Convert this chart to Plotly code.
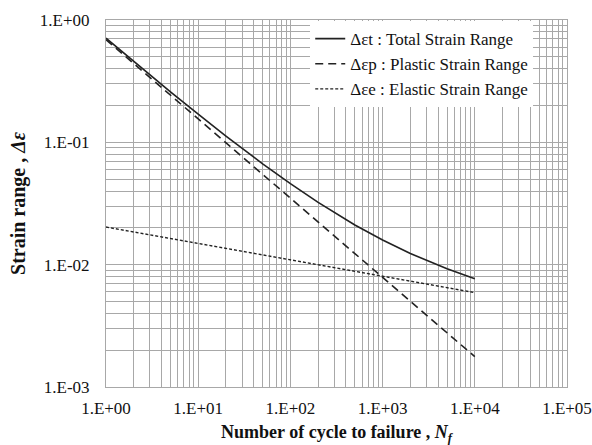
import plotly.graph_objects as go

# Number of cycles to failure
cycles = [1, 2, 5, 10, 20, 50, 100, 200, 500, 1000, 2000, 5000, 10000]
# Strain ranges
total_strain = [0.710, 0.459, 0.259, 0.170, 0.1126, 0.0667, 0.0459, 0.0323, 0.0211, 0.0159, 0.01234, 0.00925, 0.00768]
plastic_strain = [0.690, 0.440, 0.243, 0.1552, 0.0990, 0.0547, 0.0349, 0.02229, 0.01230, 0.00785, 0.00501, 0.00277, 0.00177]
elastic_strain = [0.0203, 0.0185, 0.01636, 0.0149, 0.01358, 0.01202, 0.01095, 0.00998, 0.00883, 0.00805, 0.00733, 0.00648, 0.00591]

x_tickvals = [1, 10, 100, 1000, 10000, 100000]
x_ticktext = ["1.E+00", "1.E+01", "1.E+02", "1.E+03", "1.E+04", "1.E+05"]
y_tickvals = [0.001, 0.01, 0.1, 1]
y_ticktext = ["1.E-03", "1.E-02", "1.E-01", "1.E+00"]

names = ["Δεt : Total Strain Range", "Δεp : Plastic Strain Range", "Δεe : Elastic Strain Range"]

FONT = "Liberation Serif"
LINE = "#222222"
GRID = "#a8a8a8"

fig = go.Figure()
fig.add_trace(go.Scatter(x=cycles, y=total_strain, mode="lines", name=names[0], legendgroup="a",
                         line=dict(color=LINE, width=1.6)))
fig.add_trace(go.Scatter(x=cycles, y=plastic_strain, mode="lines", name=names[1], legendgroup="b",
                         line=dict(color=LINE, width=1.6, dash="8px,5px")))
fig.add_trace(go.Scatter(x=cycles, y=elastic_strain, mode="lines", name=names[2], legendgroup="c",
                         line=dict(color=LINE, width=1.4, dash="3px,2px")))

axis_common = dict(
    type="log",
    showgrid=True, gridcolor=GRID, gridwidth=1,
    showline=True, linecolor=GRID, linewidth=1, mirror=True,
    ticks="", zeroline=False,
    tickfont=dict(family=FONT, size=17, color="#111"),
    minor=dict(showgrid=True, gridcolor=GRID, gridwidth=1, dtick="D1", ticks=""),
)

fig.update_xaxes(**axis_common, range=[0, 5], tickmode="array", tickvals=x_tickvals, ticktext=x_ticktext,
                 ticklabelstandoff=6,
                 title=dict(text="<b>Number of cycle to failure , <i>N<sub>f</sub></i></b>",
                            font=dict(family=FONT, size=18, color="#111"), standoff=12))
fig.update_yaxes(**axis_common, range=[-3, 0], tickmode="array", tickvals=y_tickvals, ticktext=y_ticktext,
                 ticklabelstandoff=12,
                 title=dict(text="<b>Strain range , <i>Δε</i></b>",
                            font=dict(family=FONT, size=20, color="#111"), standoff=8))

fig.update_layout(
    width=592, height=445,
    margin=dict(l=106, r=25, t=20, b=58, autoexpand=False),
    paper_bgcolor="white", plot_bgcolor="white",
    font=dict(family=FONT, color="#111"),
    legend=dict(x=0.443, y=0.997, xanchor="left", yanchor="top", bgcolor="white",
                font=dict(family=FONT, size=17, color="#111"), tracegroupgap=0,
                itemwidth=30),
    showlegend=True,
)

fig.write_html("out.html")
